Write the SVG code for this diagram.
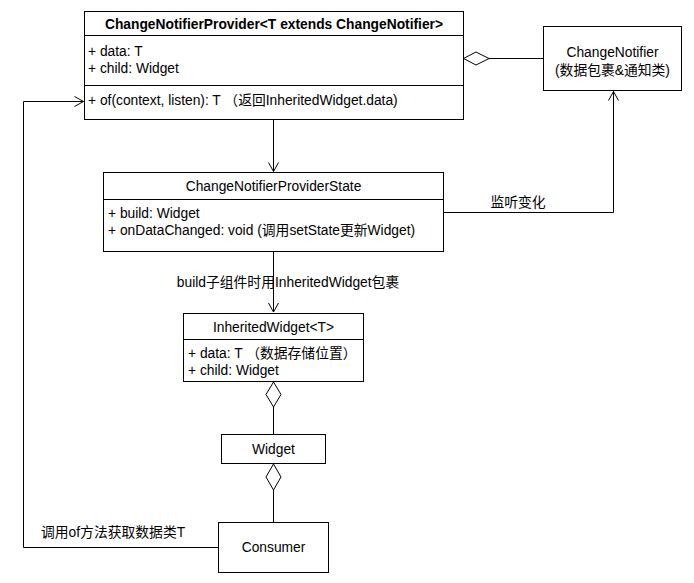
<svg xmlns="http://www.w3.org/2000/svg" width="694" height="583" viewBox="0 0 694 583">
<style>
text{font-family:"Liberation Sans","Noto Sans CJK SC",Arial,sans-serif;font-size:13.8px;fill:#000}
.c{text-anchor:middle}
.b{font-weight:bold}
.box{fill:#fff;stroke:#000;stroke-width:1}
.ln{fill:none;stroke:#000;stroke-width:1}
.dia{fill:#fff;stroke:#000;stroke-width:1}
</style>
<defs>
<marker id="open" markerWidth="12" markerHeight="12" refX="10" refY="6" orient="auto" markerUnits="userSpaceOnUse">
<path d="M1,1 L10,6 L1,11" fill="none" stroke="#000" stroke-width="1"/>
</marker>
</defs>
<rect width="694" height="583" fill="#fff"/>
<g id="connectors">
<path class="ln" d="M273.5,120 V171.5" marker-end="url(#open)"/>
<path class="ln" d="M443,212.5 H613.5 V91.5" marker-end="url(#open)"/>
<path class="ln" d="M273.5,252 V312" marker-end="url(#open)"/>
<path class="ln" d="M543,58.5 H489"/>
<path class="dia" d="M463.5,58.5 L476,52 L489,58.5 L476,65 Z"/>
<path class="ln" d="M273.5,407 V434"/>
<path class="dia" d="M273.5,382 L281,394.5 L273.5,407 L266,394.5 Z"/>
<path class="ln" d="M273.5,490 V522"/>
<path class="dia" d="M273.5,464 L281,477 L273.5,490 L266,477 Z"/>
<path class="ln" d="M218,547.5 H23.5 V101.5 H83.5" marker-end="url(#open)"/>
<text x="518" y="207" class="c">监听变化</text>
<text x="288" y="287" class="c">build子组件时用InheritedWidget包裹</text>
<text x="41" y="537">调用of方法获取数据类T</text>
</g>
<g id="provider">
<rect class="box" x="84.5" y="11.5" width="379" height="108"/>
<line class="ln" x1="84.5" y1="35.5" x2="463.5" y2="35.5"/>
<line class="ln" x1="84.5" y1="85.5" x2="463.5" y2="85.5"/>
<text x="274" y="29" class="c b">ChangeNotifierProvider&lt;T extends ChangeNotifier&gt;</text>
<text x="88" y="56">+ data: T</text>
<text x="88" y="73">+ child: Widget</text>
<text x="88" y="105">+ of(context, listen): T （返回InheritedWidget.data)</text>
</g>
<g id="changeNotifier">
<rect class="box" x="543.5" y="26.5" width="138" height="64"/>
<text x="612.5" y="57" class="c">ChangeNotifier</text>
<text x="612.5" y="75" class="c">(数据包裹&amp;通知类)</text>
</g>
<g id="providerState">
<rect class="box" x="103.5" y="172.5" width="340" height="79"/>
<line class="ln" x1="103.5" y1="199.5" x2="443.5" y2="199.5"/>
<text x="273.5" y="191" class="c">ChangeNotifierProviderState</text>
<text x="108" y="218">+ build: Widget</text>
<text x="108" y="235">+ onDataChanged: void (调用setState更新Widget)</text>
</g>
<g id="inheritedWidget">
<rect class="box" x="183.5" y="313.5" width="180" height="68"/>
<line class="ln" x1="183.5" y1="339.5" x2="363.5" y2="339.5"/>
<text x="273.5" y="332" class="c">InheritedWidget&lt;T&gt;</text>
<text x="188" y="358">+ data: T （数据存储位置）</text>
<text x="188" y="375">+ child: Widget</text>
</g>
<g id="widget">
<rect class="box" x="221.5" y="434.5" width="104" height="29"/>
<text x="273.5" y="454" class="c">Widget</text>
</g>
<g id="consumer">
<rect class="box" x="218.5" y="522.5" width="110" height="50"/>
<text x="273.5" y="552" class="c">Consumer</text>
</g>
</svg>
